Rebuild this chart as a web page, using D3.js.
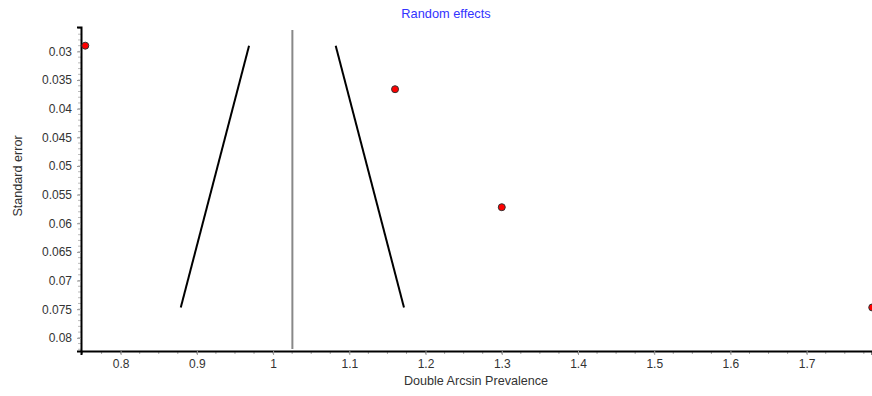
<!DOCTYPE html>
<html>
<head>
<meta charset="utf-8">
<script src="https://cdn.jsdelivr.net/npm/d3@7"></script>
<style>
  body { margin: 0; background: #fff; }
  svg { display: block; font-family: "Liberation Sans", Arial, sans-serif; }
  .tick text { fill: #333; font-size: 12px; }
  .axisText { fill: #333; font-size: 12.6px; }
</style>
</head>
<body>
<div class="chart"></div>
<script>
var svgWidth = 872;
var svgHeight = 396;

// study estimates (double arcsine prevalence) and their standard errors
var studyEffects = [0.7536, 1.160, 1.300, 1.786];
var studyErrors = [0.0290, 0.0366, 0.0572, 0.0747];

// pooled random-effects estimate
var pooledEffect = 1.0253;

var xTickValues = [0.8, 0.9, 1.0, 1.1, 1.2, 1.3, 1.4, 1.5, 1.6, 1.7];
var xTickLabels = ["0.8", "0.9", "1", "1.1", "1.2", "1.3", "1.4", "1.5", "1.6", "1.7"];
var yTickValues = [0.03, 0.035, 0.04, 0.045, 0.05, 0.055, 0.06, 0.065, 0.07, 0.075, 0.08];
var yTickLabels = ["0.03", "0.035", "0.04", "0.045", "0.05", "0.055", "0.06", "0.065", "0.07", "0.075", "0.08"];

var margin = { top: 27, right: 0, bottom: 45, left: 81 };
var width = svgWidth - margin.left - margin.right;
var height = svgHeight - margin.top - margin.bottom;

var svg = d3.select(".chart")
  .append("svg")
  .attr("width", svgWidth)
  .attr("height", svgHeight);

var chart = svg.append("g")
  .attr("transform", "translate(" + margin.left + "," + margin.top + ")");

var xScale = d3.scaleLinear()
  .domain([0.748, 1.7857])
  .range([0, width]);

// standard error runs downward
var yScale = d3.scaleLinear()
  .domain([0.02574, 0.0823])
  .range([0, height]);

// minor ticks
var xMinor = d3.range(0.75, 1.79, 0.025);
chart.append("g")
  .selectAll("line")
  .data(xMinor)
  .enter().append("line")
    .attr("x1", function(d) { return xScale(d); })
    .attr("x2", function(d) { return xScale(d); })
    .attr("y1", height)
    .attr("y2", height + 3)
    .attr("stroke", "#aaa");

var yMinor = d3.range(0.026, 0.0823, 0.001);
chart.append("g")
  .selectAll("line")
  .data(yMinor)
  .enter().append("line")
    .attr("x1", -3)
    .attr("x2", 0)
    .attr("y1", function(d) { return yScale(d); })
    .attr("y2", function(d) { return yScale(d); })
    .attr("stroke", "#bbb");

// funnel (pooled estimate +/- 1.96 SE)
var seMin = d3.min(studyErrors);
var seMax = d3.max(studyErrors);

chart.append("line")
  .attr("x1", xScale(pooledEffect - 1.96 * seMin))
  .attr("y1", yScale(seMin))
  .attr("x2", xScale(pooledEffect - 1.96 * seMax))
  .attr("y2", yScale(seMax))
  .attr("stroke", "#000")
  .attr("stroke-width", 2);

chart.append("line")
  .attr("x1", xScale(pooledEffect + 1.96 * seMin))
  .attr("y1", yScale(seMin))
  .attr("x2", xScale(pooledEffect + 1.96 * seMax))
  .attr("y2", yScale(seMax))
  .attr("stroke", "#000")
  .attr("stroke-width", 2);

// pooled estimate line
chart.append("line")
  .attr("x1", xScale(pooledEffect))
  .attr("x2", xScale(pooledEffect))
  .attr("y1", 3)
  .attr("y2", height - 2)
  .attr("stroke", "#888")
  .attr("stroke-width", 2);

// axes
var bottomAxis = d3.axisBottom(xScale)
  .tickValues(xTickValues)
  .tickFormat(function(d, i) { return xTickLabels[i]; })
  .tickSize(4)
  .tickPadding(4);

var leftAxis = d3.axisLeft(yScale)
  .tickValues(yTickValues)
  .tickFormat(function(d, i) { return yTickLabels[i]; })
  .tickSize(4)
  .tickPadding(5);

var xAxisG = chart.append("g")
  .attr("transform", "translate(0," + height + ")")
  .call(bottomAxis);
xAxisG.select(".domain").attr("stroke", "#000").attr("stroke-width", 2);
xAxisG.selectAll(".tick line").attr("stroke", "#999");

var yAxisG = chart.append("g")
  .call(leftAxis);
yAxisG.select(".domain").attr("stroke", "#000").attr("stroke-width", 2);
yAxisG.selectAll(".tick line").attr("stroke", "#999");

// study points
chart.selectAll("circle")
  .data(studyEffects)
  .enter().append("circle")
    .attr("cx", function(d) { return xScale(d); })
    .attr("cy", function(d, i) { return yScale(studyErrors[i]); })
    .attr("r", 3.5)
    .attr("fill", "#ff0000")
    .attr("stroke", "#333")
    .attr("stroke-width", 1);

// titles
svg.append("text")
  .attr("x", 446)
  .attr("y", 18)
  .attr("text-anchor", "middle")
  .attr("fill", "#3333ff")
  .style("font-size", "12.8px")
  .text("Random effects");

svg.append("text")
  .attr("transform", "translate(22," + 176 + ") rotate(-90)")
  .attr("text-anchor", "middle")
  .attr("class", "axisText")
  .text("Standard error");

svg.append("text")
  .attr("x", 476)
  .attr("y", 385)
  .attr("text-anchor", "middle")
  .attr("class", "axisText")
  .text("Double Arcsin Prevalence");
</script>
</body>
</html>
